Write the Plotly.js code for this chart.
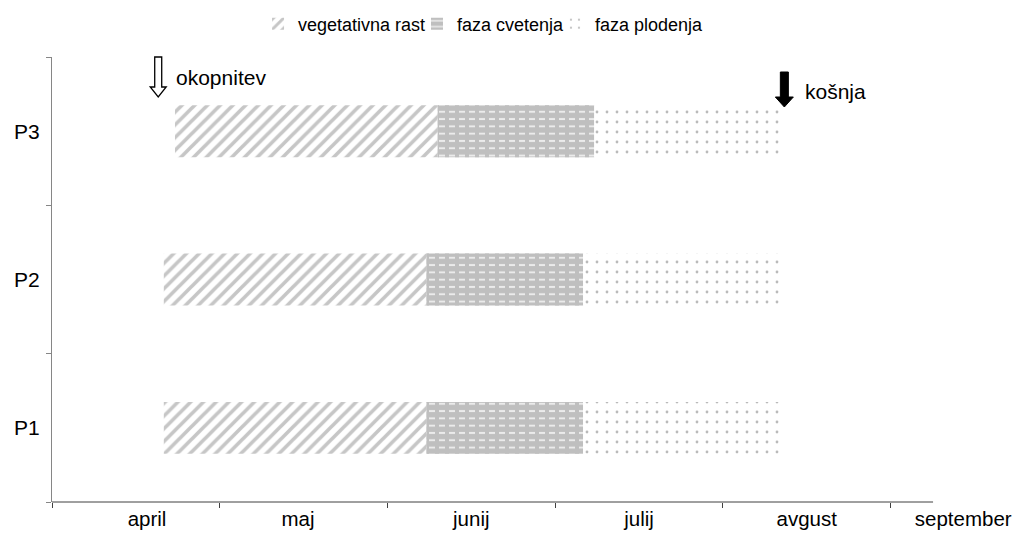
<!DOCTYPE html>
<html>
<head>
<meta charset="utf-8">
<script src="https://cdn.plot.ly/plotly-3.0.1.min.js"></script>
<style>
  html, body { margin: 0; padding: 0; background: #fff; }
  #chart { width: 1018px; height: 533px; }
</style>
</head>
<body>
<div id="chart"></div>
<script>
// Plots (bottom to top)
const plots = ['P1', 'P2', 'P3'];
const phaseNames = ['vegetativna rast', 'faza cvetenja', 'faza plodenja'];

// Phase dates as day of year
const vegStart = [111, 111, 113];
const flowerStart = [158, 158, 160];
const fruitStart = [186, 186, 188];
const mowDay = [222, 222, 222];

// Field events (day of year)
const tillageDay = 110;   // okopnitev
const mowingDay = 222;    // košnja

// Month boundaries and month labels on the time axis
const monthTicks = [91, 121, 151, 181, 211, 241];
const monthLabelDays = [108, 135, 166, 196, 226, 254];
const monthLabels = ['april', 'maj', 'junij', 'julij', 'avgust', 'september'];

const axisStart = 91;
const axisEnd = 248.6;
const viewEnd = 262.9;

const FONT = 'Liberation Sans, Arial, sans-serif';

function span(a, b) { return a.map((v, i) => b[i] - v); }

const barWidth = 0.35;
const traces = [
  {
    type: 'bar', orientation: 'h', name: phaseNames[0], legend: 'legend',
    y: plots, base: vegStart, x: span(vegStart, flowerStart), width: barWidth,
    marker: { color: '#ffffff', line: { width: 0 },
      pattern: { shape: '/', fgcolor: '#c6c6c6', bgcolor: '#ffffff', size: 9, solidity: 0.4 } },
    hoverinfo: 'skip'
  },
  {
    type: 'bar', orientation: 'h', name: phaseNames[1], legend: 'legend2',
    y: plots, base: flowerStart, x: span(flowerStart, fruitStart), width: barWidth,
    marker: { color: '#bfbfbf', line: { width: 0 },
      pattern: { shape: '-', fgcolor: '#ebebeb', bgcolor: '#bfbfbf', size: 7.3, solidity: 0.27 } },
    hoverinfo: 'skip'
  },
  // gray vertical breaks that cut the white lines of the flowering fill into dashes
  {
    type: 'bar', orientation: 'h', showlegend: false,
    y: plots, base: flowerStart, x: span(flowerStart, fruitStart), width: barWidth,
    marker: { color: 'rgba(0,0,0,0)', line: { width: 0 },
      pattern: { shape: '|', fgcolor: '#bfbfbf', bgcolor: 'rgba(0,0,0,0)', size: 10, solidity: 0.4 } },
    hoverinfo: 'skip'
  },
  {
    type: 'bar', orientation: 'h', name: phaseNames[2], legend: 'legend3',
    y: plots, base: fruitStart, x: span(fruitStart, mowDay), width: barWidth,
    marker: { color: '#ffffff', line: { width: 0 },
      pattern: { shape: '.', fgcolor: '#bababa', bgcolor: '#ffffff', size: 10, solidity: 0.06 } },
    hoverinfo: 'skip'
  },
  // invisible trace carrying the month labels on an overlaid axis
  {
    type: 'scatter', mode: 'markers', x: monthLabelDays, y: monthLabelDays.map(() => 'P1'),
    xaxis: 'x2', yaxis: 'y', marker: { opacity: 0 }, showlegend: false, hoverinfo: 'skip'
  }
];

function legendAt(x) {
  return {
    orientation: 'h', x: x, xanchor: 'left', y: 1.0742, yanchor: 'middle',
    font: { family: FONT, size: 18, color: '#000' }, itemwidth: 30,
    bgcolor: 'rgba(0,0,0,0)', borderwidth: 0
  };
}

const layout = {
  width: 1018, height: 533,
  margin: { l: 52, r: 5, t: 57, b: 31 },
  paper_bgcolor: '#ffffff', plot_bgcolor: '#ffffff',
  font: { family: FONT, size: 20, color: '#000000' },
  barmode: 'overlay',
  showlegend: true,
  legend: legendAt(0.2144),
  legend2: legendAt(0.3798),
  legend3: legendAt(0.5234),
  xaxis: {
    type: 'linear', range: [axisStart, viewEnd], showgrid: false, zeroline: false,
    showline: false, tickmode: 'array', tickvals: monthTicks, ticktext: monthTicks.map(() => ''),
    ticks: 'outside', ticklen: 5, tickcolor: '#404040', tickwidth: 1, fixedrange: true
  },
  xaxis2: {
    overlaying: 'x', matches: 'x', side: 'bottom', showgrid: false, zeroline: false,
    showline: false, tickmode: 'array', tickvals: monthLabelDays, ticktext: monthLabels,
    ticks: '', ticklabelstandoff: 2, tickfont: { family: FONT, size: 20.5, color: '#000' }
  },
  yaxis: {
    type: 'category', categoryorder: 'array', categoryarray: plots, range: [-0.5, 2.5],
    showgrid: false, zeroline: false, showline: true, linecolor: '#868686', linewidth: 1,
    ticks: 'outside', tickson: 'boundaries', ticklen: 5, tickcolor: '#868686',
    tickfont: { family: FONT, size: 21, color: '#000' }, ticklabelstandoff: 7
  },
  shapes: [
    // time axis line, from the first month boundary to the end of the axis
    { type: 'line', xref: 'x', yref: 'paper', x0: axisStart, x1: axisEnd, y0: 0, y1: 0,
      line: { color: '#404040', width: 1 }, layer: 'above' },
    // hollow arrow: okopnitev
    { type: 'path', xref: 'x', yref: 'paper', xsizemode: 'pixel', ysizemode: 'pixel',
      xanchor: tillageDay, yanchor: 1,
      path: 'M-3.5,0 L3.5,0 L3.5,-30 L8,-30 L0,-40 L-8,-30 L-3.5,-30 Z',
      fillcolor: '#ffffff', line: { color: '#000', width: 1.3 }, layer: 'above' },
    // filled arrow: košnja
    { type: 'path', xref: 'x', yref: 'paper', xsizemode: 'pixel', ysizemode: 'pixel',
      xanchor: mowingDay, yanchor: 1,
      path: 'M-4,-15 L4,-15 L4,-40 L9,-40 L0,-50 L-9,-40 L-4,-40 Z',
      fillcolor: '#000', line: { color: '#000', width: 1 }, layer: 'above' }
  ],
  annotations: [
    { xref: 'x', yref: 'paper', x: tillageDay, y: 1, xanchor: 'left', yanchor: 'middle',
      xshift: 16, yshift: -20, text: 'okopnitev', showarrow: false,
      font: { family: FONT, size: 21, color: '#000' } },
    { xref: 'x', yref: 'paper', x: mowingDay, y: 1, xanchor: 'left', yanchor: 'middle',
      xshift: 19, yshift: -34, text: 'košnja', showarrow: false,
      font: { family: FONT, size: 21, color: '#000' } }
  ]
};

Plotly.newPlot('chart', traces, layout, { displayModeBar: false, staticPlot: true });
</script>
</body>
</html>
